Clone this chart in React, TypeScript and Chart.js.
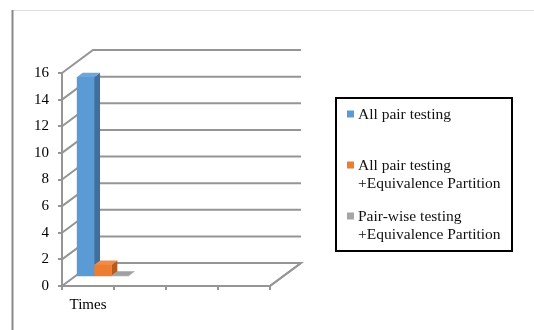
import React, { useEffect, useRef } from "react";
import { Chart, registerables } from "chart.js";

Chart.register(...registerables);

// ---- data ----
const CATEGORIES = ["Times", "", "", ""];
const ALL_PAIR = [15, null, null, null];
const ALL_PAIR_EP = [0.9, null, null, null];
const PAIRWISE_EP = [0.1, null, null, null];
const SERIES_NAMES = [
  ["All pair testing"],
  ["All pair testing", "+Equivalence Partition"],
  ["Pair-wise testing", "+Equivalence Partition"],
];
const Y_MIN = 0;
const Y_MAX = 16;
const Y_STEP = 2;

// ---- styles ----
const FRONT = ["#5B9BD5", "#ED7D31", "#A5A5A5"];
const SIDE = ["#3E6F9F", "#B65B1E", "#7A7A7A"];
const TOP = ["#6FA6DA", "#F08C4A", "#A0A0A0"];
const GRID = "#959595";
const FONT = "'Liberation Serif', 'Times New Roman', serif";

const DEPTH_X = 31;
const DEPTH_Y = -23;
const BAR_SHIFT_X = 14.7;
const BAR_SHIFT_Y = -9;
const BAR_DEPTH_X = 6;
const BAR_DEPTH_Y = -4.5;

const LEGEND_BOX = { left: 336, top: 98, right: 512, bottom: 251 };

const threeD = {
  id: "threeD",
  beforeDraw(chart: any) {
    const ctx = chart.ctx;
    ctx.save();
    ctx.fillStyle = "#fff";
    ctx.fillRect(0, 0, chart.width, chart.height);
    ctx.strokeStyle = "#dedede";
    ctx.lineWidth = 1;
    ctx.beginPath();
    ctx.moveTo(12, 10.5);
    ctx.lineTo(chart.width, 10.5);
    ctx.stroke();
    ctx.strokeStyle = "#8a8a8a";
    ctx.lineWidth = 2;
    ctx.beginPath();
    ctx.moveTo(12.5, 10);
    ctx.lineTo(12.5, chart.height);
    ctx.stroke();
    ctx.restore();
  },
  beforeDatasetsDraw(chart: any) {
    const { ctx, chartArea: ca, scales } = chart;
    const y = scales.y;
    ctx.save();
    ctx.strokeStyle = GRID;
    ctx.lineWidth = 2;
    ctx.lineJoin = "miter";
    const backRight = ca.right + DEPTH_X;
    y.ticks.forEach((t: any) => {
      const py = y.getPixelForValue(t.value);
      ctx.beginPath();
      ctx.moveTo(ca.left, py);
      ctx.lineTo(ca.left + DEPTH_X, py + DEPTH_Y);
      ctx.lineTo(backRight, py + DEPTH_Y);
      if (t.value === Y_MIN) ctx.lineTo(ca.right, py);
      ctx.stroke();
    });
    ctx.restore();

    // side and top faces of the bars (behind the front faces)
    ctx.save();
    const n = chart.data.datasets.length;
    for (let i = 0; i < n; i++) {
      const meta = chart.getDatasetMeta(i);
      meta.data.forEach((el: any, j: number) => {
        const v = chart.data.datasets[i].data[j];
        if (v === null || v === undefined) return;
        const p = el.getProps(["x", "y", "base", "width"], true);
        const l = p.x - p.width / 2 + BAR_SHIFT_X;
        const r = p.x + p.width / 2 + BAR_SHIFT_X;
        const top = Math.min(p.y, p.base) + BAR_SHIFT_Y;
        const bot = Math.max(p.y, p.base) + BAR_SHIFT_Y;
        ctx.fillStyle = SIDE[i];
        ctx.beginPath();
        ctx.moveTo(r, top);
        ctx.lineTo(r + BAR_DEPTH_X, top + BAR_DEPTH_Y);
        ctx.lineTo(r + BAR_DEPTH_X, bot + BAR_DEPTH_Y);
        ctx.lineTo(r, bot);
        ctx.closePath();
        ctx.fill();
        ctx.fillStyle = TOP[i];
        ctx.beginPath();
        ctx.moveTo(l, top);
        ctx.lineTo(r, top);
        ctx.lineTo(r + BAR_DEPTH_X, top + BAR_DEPTH_Y);
        ctx.lineTo(l + BAR_DEPTH_X, top + BAR_DEPTH_Y);
        ctx.closePath();
        ctx.fill();
      });
    }
    ctx.restore();

    ctx.save();
    ctx.translate(BAR_SHIFT_X, BAR_SHIFT_Y);
  },
  afterDatasetsDraw(chart: any) {
    chart.ctx.restore();
    const ca = chart.chartArea;
    const y = chart.scales.y;
    const ctx = chart.ctx;
    ctx.save();
    ctx.strokeStyle = GRID;
    ctx.lineWidth = 2;
    const py = y.getPixelForValue(Y_MIN);
    ctx.beginPath();
    ctx.moveTo(ca.right, py);
    ctx.lineTo(ca.right + DEPTH_X, py + DEPTH_Y);
    ctx.stroke();
    ctx.restore();
  },
  afterDraw(chart: any) {
    const ctx = chart.ctx;
    const b = LEGEND_BOX;
    ctx.save();
    ctx.strokeStyle = "#000";
    ctx.lineWidth = 2;
    ctx.strokeRect(b.left, b.top, b.right - b.left, b.bottom - b.top);
    const n = chart.data.datasets.length;
    const slot = (b.bottom - b.top) / n;
    ctx.font = `15.5px ${FONT}`;
    ctx.textBaseline = "middle";
    ctx.textAlign = "left";
    for (let i = 0; i < n; i++) {
      const cy = b.top + i * slot + 16.5;
      ctx.fillStyle = FRONT[i];
      ctx.fillRect(b.left + 11, cy - 4, 7, 7);
      ctx.fillStyle = "#111";
      SERIES_NAMES[i].forEach((line, k) => {
        ctx.fillText(line, b.left + 22, cy + k * 18);
      });
    }
    ctx.restore();
  },
};

export default function App() {
  const ref = useRef<HTMLCanvasElement | null>(null);
  useEffect(() => {
    if (!ref.current) return;
    const mk = (data: (number | null)[], i: number) => ({
      label: SERIES_NAMES[i].join(" "),
      data,
      backgroundColor: FRONT[i],
      borderWidth: 0,
      categoryPercentage: 1,
      barPercentage: 1,
    });
    const chart = new Chart(ref.current, {
      type: "bar",
      data: {
        labels: CATEGORIES,
        datasets: [mk(ALL_PAIR, 0), mk(ALL_PAIR_EP, 1), mk(PAIRWISE_EP, 2)],
      },
      plugins: [threeD],
      options: {
        responsive: false,
        animation: false,
        events: [],
        layout: { padding: { left: 0, top: 73, right: 264, bottom: 0 } },
        plugins: { legend: { display: false }, tooltip: { enabled: false } },
        scales: {
          x: {
            offset: true,
            grid: {
              offset: true,
              drawOnChartArea: false,
              drawTicks: true,
              tickLength: 4,
              color: GRID,
              lineWidth: 2,
            },
            border: { display: true, color: GRID, width: 2 },
            ticks: {
              color: "#000",
              font: { family: FONT, size: 15 },
              padding: 6,
              maxRotation: 0,
              autoSkip: false,
            },
            afterFit: (s: any) => {
              s.height = 44;
            },
          },
          y: {
            min: Y_MIN,
            max: Y_MAX,
            ticks: {
              stepSize: Y_STEP,
              color: "#000",
              font: { family: FONT, size: 15 },
              padding: 9,
            },
            grid: {
              drawOnChartArea: false,
              drawTicks: true,
              tickLength: 4,
              color: GRID,
              lineWidth: 2,
            },
            border: { display: true, color: GRID, width: 2 },
            afterFit: (s: any) => {
              s.width = 62;
            },
          },
        },
      },
    } as any);
    return () => chart.destroy();
  }, []);
  return (
    <div style={{ position: "fixed", left: 0, top: 0, width: 534, height: 330, background: "#fff" }}>
      <canvas ref={ref} width={534} height={330} style={{ display: "block" }} />
    </div>
  );
}
